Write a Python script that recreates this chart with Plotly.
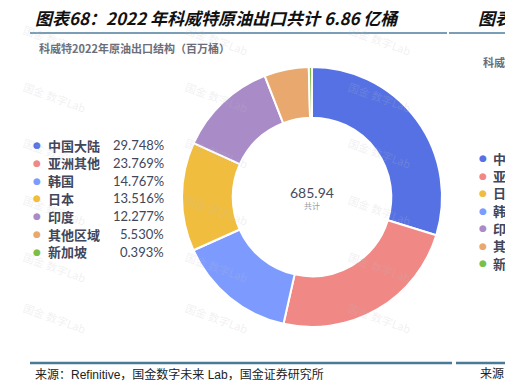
import plotly.graph_objects as go

W, H = 505, 382

regions = ["中国大陆", "亚洲其他", "韩国", "日本", "印度", "其他区域", "新加坡"]
shares = [29.748, 23.769, 14.767, 13.516, 12.277, 5.530, 0.393]
colors = ["#5571e4", "#f08885", "#7d9bff", "#f0bd3e", "#a98bc8", "#e8a86e", "#7cbf48"]
total_text = "685.94"

right_regions = ["中国大陆", "亚洲其他", "日本", "韩国", "印度", "其他区域", "新加坡"]
right_colors = ["#5571e4", "#f08885", "#f0bd3e", "#7d9bff", "#a98bc8", "#e8a86e", "#7cbf48"]

FONT = "Noto Sans CJK SC"


def px(x):
    return x / W


def py(y):
    return 1 - y / H


fig = go.Figure()
fig.add_trace(go.Pie(
    labels=regions, values=shares, sort=False, direction="clockwise", rotation=0,
    hole=0.61, marker=dict(colors=colors, line=dict(color="white", width=2)),
    textinfo="none", hoverinfo="label+percent", showlegend=False,
    domain=dict(x=[px(182), px(442)], y=[py(327), py(67)]),
))

ann = []
# title
ann.append(dict(x=px(33), y=py(18), text="图表68：2022 年科威特原油出口共计 6.86 亿桶",
                xanchor="left", yanchor="middle", showarrow=False,
                font=dict(family=FONT, size=17, color="#111111", weight="bold", style="italic")))
ann.append(dict(x=px(476), y=py(18), text="图表69：",
                xanchor="left", yanchor="middle", showarrow=False,
                font=dict(family=FONT, size=17, color="#111111", weight="bold", style="italic")))
# subtitle
ann.append(dict(x=px(37), y=py(48), text="科威特2022年原油出口结构（百万桶）",
                xanchor="left", yanchor="middle", showarrow=False,
                font=dict(family=FONT, size=11, color="#6b6e78", weight="bold")))
ann.append(dict(x=px(481), y=py(62), text="科威特2022年",
                xanchor="left", yanchor="middle", showarrow=False,
                font=dict(family=FONT, size=11, color="#6b6e78", weight="bold")))
# center
ann.append(dict(x=px(312), y=py(192), text=total_text, xanchor="center", yanchor="middle",
                showarrow=False, font=dict(family="Lato", size=14, color="#464b5e")))
ann.append(dict(x=px(312), y=py(206), text="共计", xanchor="center", yanchor="middle",
                showarrow=False, font=dict(family=FONT, size=8, color="#9a9ca6")))
# left legend
for i, (r, s, c) in enumerate(zip(regions, shares, colors)):
    yy = 145 + i * 17.8
    ann.append(dict(x=px(37), y=py(yy), text="●", xanchor="center", yanchor="middle",
                    showarrow=False, font=dict(family="DejaVu Sans", size=9, color=c)))
    ann.append(dict(x=px(46), y=py(yy), text=r, xanchor="left", yanchor="middle",
                    showarrow=False, font=dict(family=FONT, size=13, color="#41465a", weight="bold")))
    ann.append(dict(x=px(166), y=py(yy), text=f"{s:.3f}%", xanchor="right", yanchor="middle",
                    showarrow=False, font=dict(family="Lato", size=13, color="#41465a")))
# right legend (cut-off panel)
for i, (r, c) in enumerate(zip(right_regions, right_colors)):
    yy = 158 + i * 17.5
    ann.append(dict(x=px(483), y=py(yy), text="●", xanchor="center", yanchor="middle",
                    showarrow=False, font=dict(family="DejaVu Sans", size=9, color=c)))
    ann.append(dict(x=px(491), y=py(yy), text=r, xanchor="left", yanchor="middle",
                    showarrow=False, font=dict(family=FONT, size=13, color="#41465a", weight="bold")))
# source
ann.append(dict(x=px(33), y=py(374), text="来源：Refinitive，国金数字未来 Lab，国金证券研究所",
                xanchor="left", yanchor="middle", showarrow=False,
                font=dict(family="Liberation Sans, Noto Sans CJK SC", size=12, color="#222222")))
ann.append(dict(x=px(478), y=py(374), text="来源：",
                xanchor="left", yanchor="middle", showarrow=False,
                font=dict(family="Liberation Sans, Noto Sans CJK SC", size=12, color="#222222")))
# faint watermarks
for wx in [55, 217, 380]:
    for wy in [40, 97, 153, 210, 267, 318]:
        ann.append(dict(x=px(wx), y=py(wy), text="国金 数字Lab", xanchor="center", yanchor="middle",
                        showarrow=False, textangle=20,
                        font=dict(family=FONT, size=11, color="rgba(190,190,195,0.22)")))

shapes = [
    dict(type="line", xref="paper", yref="paper", x0=px(30), x1=px(447), y0=py(33), y1=py(33),
         line=dict(color="#4f7e9e", width=1.5)),
    dict(type="line", xref="paper", yref="paper", x0=px(449), x1=1, y0=py(33), y1=py(33),
         line=dict(color="#4f7e9e", width=1.5)),
    dict(type="line", xref="paper", yref="paper", x0=px(30), x1=px(452), y0=py(363), y1=py(363),
         line=dict(color="#4a7a9a", width=2.5)),
    dict(type="line", xref="paper", yref="paper", x0=px(456), x1=1, y0=py(363), y1=py(363),
         line=dict(color="#4a7a9a", width=2.5)),
]

fig.update_layout(
    width=W, height=H, margin=dict(l=0, r=0, t=0, b=0),
    paper_bgcolor="white", plot_bgcolor="white",
    annotations=ann, shapes=shapes, showlegend=False,
)
fig.write_html("out.html", config={"displayModeBar": False},
               post_script="document.body.style.margin='0';document.body.style.overflow='hidden';")
